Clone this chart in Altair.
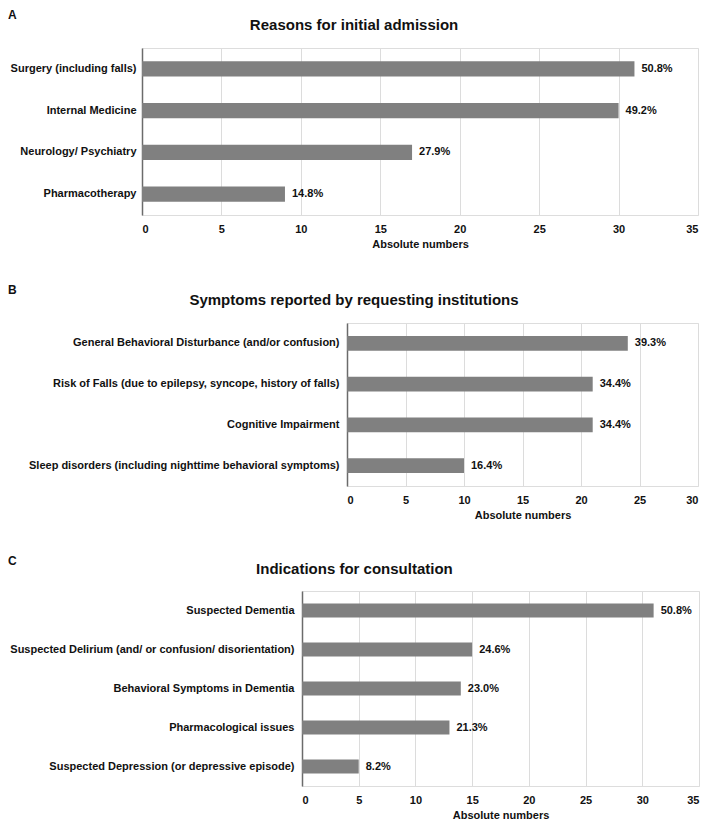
import altair as alt
import pandas as pd

FONT = "Liberation Sans"
TXT = "#111111"

# Panel A
A_cats = ["Surgery (including falls)", "Internal Medicine", "Neurology/ Psychiatry", "Pharmacotherapy"]
A_vals = [31, 30, 17, 9]
A_pct = ["50.8%", "49.2%", "27.9%", "14.8%"]

# Panel B
B_cats = [
    "General Behavioral Disturbance (and/or confusion)",
    "Risk of Falls (due to epilepsy, syncope, history of falls)",
    "Cognitive Impairment",
    "Sleep disorders (including nighttime behavioral symptoms)",
]
B_vals = [24, 21, 21, 10]
B_pct = ["39.3%", "34.4%", "34.4%", "16.4%"]

# Panel C
C_cats = [
    "Suspected Dementia",
    "Suspected Delirium (and/ or confusion/ disorientation)",
    "Behavioral Symptoms in Dementia",
    "Pharmacological issues",
    "Suspected Depression (or depressive episode)",
]
C_vals = [31, 15, 14, 13, 5]
C_pct = ["50.8%", "24.6%", "23.0%", "21.3%", "8.2%"]


def panel(letter, title, cats, vals, pct, xmax, width, height, extent,
          label_pad=8, title_offset=12, letter_offset=-4):
    df = pd.DataFrame({"cat": cats, "val": vals, "pct": pct})
    y_axis = alt.Axis(ticks=False, grid=False, domain=True, domainColor="#6b6b6b",
                      domainWidth=1.5, labelFont=FONT, labelFontSize=11,
                      labelFontWeight="bold", labelColor=TXT, labelPadding=label_pad,
                      labelLimit=500, minExtent=extent, maxExtent=extent)
    x_axis = alt.Axis(values=list(range(0, xmax + 1, 5)), grid=True, gridColor="#dcdcdc",
                      gridWidth=1, domain=False, ticks=False, labelPadding=8,
                      labelFont=FONT, labelFontSize=11, labelFontWeight="bold",
                      labelColor=TXT, titleFont=FONT, titleFontSize=11,
                      titleFontWeight="bold", titleColor=TXT, titlePadding=4)
    y = alt.Y("cat:N", sort=cats, title=None,
              scale=alt.Scale(paddingInner=0.64, paddingOuter=0.32), axis=y_axis)
    x = alt.X("val:Q", title="Absolute numbers",
              scale=alt.Scale(domain=[0, xmax], nice=False), axis=x_axis)
    base = alt.Chart(df)
    bars = base.mark_bar(color="#808080").encode(x=x, y=y)
    labels = base.mark_text(align="left", baseline="middle", dx=7, font=FONT,
                            fontSize=11, fontWeight="bold", color=TXT).encode(
        x="val:Q", y=alt.Y("cat:N", sort=cats), text="pct:N")
    chart = (bars + labels).properties(
        width=width, height=height,
        title=alt.Title(title, anchor="middle", frame="bounds", offset=title_offset,
                        font=FONT, fontSize=15, fontWeight="bold", color=TXT))
    spacer = alt.Chart(pd.DataFrame({"s": [""]})).mark_text().encode(
        text="s:N").properties(width=1, height=1)
    return alt.hconcat(spacer, chart, spacing=0,
                       title=alt.Title(letter, anchor="start", frame="bounds",
                                       offset=letter_offset, font=FONT, fontSize=12,
                                       fontWeight="bold", color=TXT))


pA = panel("A", "Reasons for initial admission", A_cats, A_vals, A_pct, 35, 556, 167, 128,
           label_pad=6, title_offset=15)
pB = panel("B", "Symptoms reported by requesting institutions", B_cats, B_vals, B_pct, 30, 351, 163, 337,
           label_pad=8, title_offset=15)
pC = panel("C", "Indications for consultation", C_cats, C_vals, C_pct, 35, 397, 195, 290,
           label_pad=8, title_offset=14, letter_offset=-6)

chart = alt.vconcat(pA, pB, pC, spacing=33).properties(
    padding={"left": 0, "top": 0, "right": 0, "bottom": 0}
).configure_view(stroke=None).configure(background="white")

chart.save("out.html", embed_options={"renderer": "svg", "actions": False})
